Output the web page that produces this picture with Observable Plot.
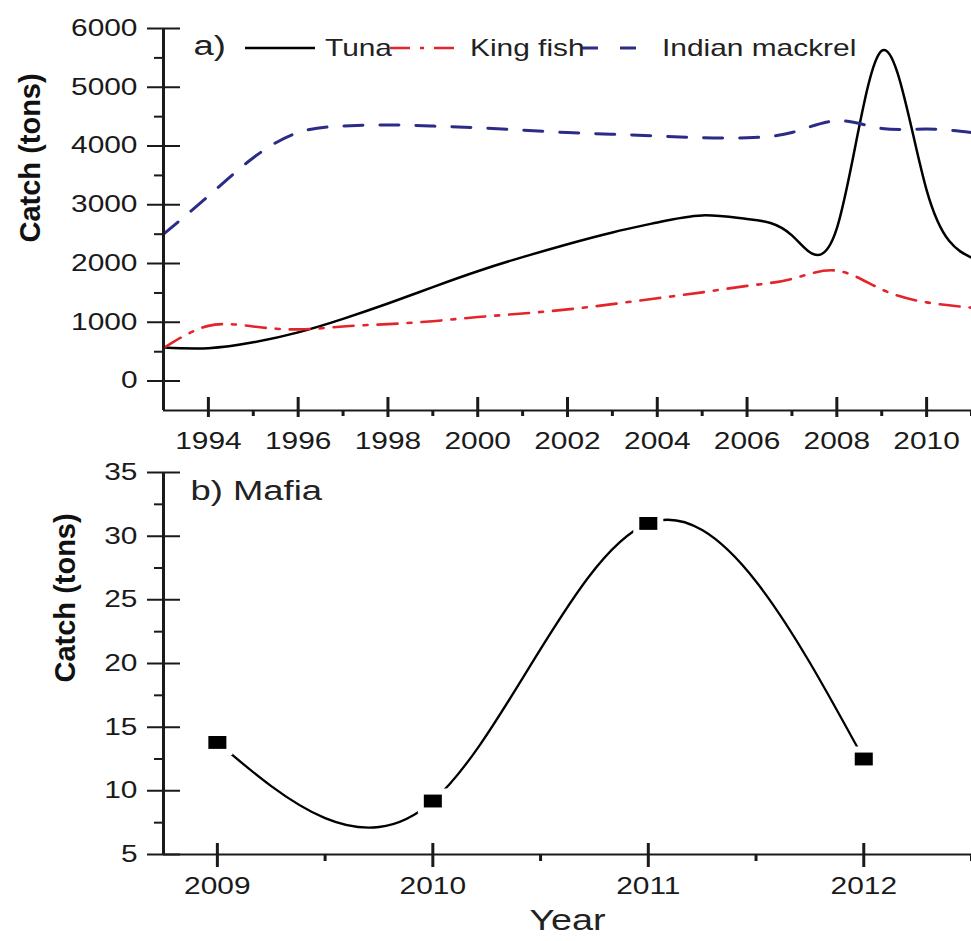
<!DOCTYPE html>
<html><head><meta charset="utf-8">
<script src="https://cdn.jsdelivr.net/npm/d3@7"></script>
<script src="https://cdn.jsdelivr.net/npm/@observablehq/plot@0.6"></script>
<style>
body{margin:0;background:#fff;font-family:"Liberation Sans",Arial,sans-serif;}
#wrap{position:relative;width:971px;height:941px;overflow:hidden;background:#fff;}
#wrap svg{display:block;}
#legend{position:absolute;left:0;top:0;pointer-events:none;}
</style></head><body><div id="wrap"></div>
<script>
// ---- data ----
const years = [1993,1994,1995,1996,1997,1998,1999,2000,2001,2002,2003,2004,2005,2006,2007,2008,2009,2010,2011];
const tuna = [570,560,660,830,1060,1320,1600,1870,2110,2330,2530,2700,2820,2760,2480,2600,5620,3250,2100];
const kingFish = [560,940,930,880,930,970,1020,1090,1150,1220,1310,1410,1510,1620,1740,1880,1560,1340,1250];
const indianMackrel = [2500,3150,3800,4230,4340,4360,4340,4310,4270,4230,4200,4170,4140,4140,4230,4430,4300,4290,4230];
const speciesNames = ["Tuna","King fish","Indian mackrel"];

const mafiaYears = [2009,2010,2011,2012];
const mafiaCatch = [13.8,9.2,31,12.5];

const topYTicks = [0,1000,2000,3000,4000,5000,6000];
const topYMinor = [500,1500,2500,3500,4500,5500];
const topXTicks = [1994,1996,1998,2000,2002,2004,2006,2008,2010];
const topXMinor = [1995,1997,1999,2001,2003,2005,2007,2009,2011];
const topXDomain = [1993,2011];
const topYDomain = [-500,6000];

const botYTicks = [5,10,15,20,25,30,35];
const botYMinor = [7.5,12.5,17.5,22.5,27.5,32.5];
const botXTicks = [2009,2010,2011,2012];
const botXMinor = [2009.5,2010.5,2011.5,2012.5];
const botXDomain = [2008.75,2012.5];
const botYDomain = [5,35];

// ---- tables ----
const seriesValues = [tuna, kingFish, indianMackrel];
const rows = speciesNames.flatMap((s, j) => years.map((y, i) => ({species: s, year: y, catch: seriesValues[j][i]})));
const mafia = mafiaYears.map((y, i) => ({year: y, catch: mafiaCatch[i]}));

const RED = "#e3242b", BLUE = "#2b2b88";
const styles = {
  "Tuna": {stroke: "#000", strokeWidth: 2.5, strokeDasharray: null},
  "King fish": {stroke: RED, strokeWidth: 2.6, strokeDasharray: "20,10,4,10"},
  "Indian mackrel": {stroke: BLUE, strokeWidth: 3, strokeDasharray: "19,17"}
};
const K = 1.3; // horizontal stretch of the original figure's text
const FONT = "'Liberation Sans', Arial, sans-serif";
const fmt = d3.format("d");

function stretch(svg, k) {
  svg.querySelectorAll("text").forEach(t => {
    const tr = t.getAttribute("transform") || "";
    if (tr.includes("rotate")) return;
    const x = +t.getAttribute("x") || 0;
    t.setAttribute("transform", `${tr} translate(${x},0) scale(${k},1) translate(${-x},0)`);
  });
}

const rectSymbol = {draw(ctx, size) { const h = Math.sqrt(size / 1.4), w = 1.4 * h; ctx.rect(-w/2, -h/2, w, h); }};

const topPlot = Plot.plot({
  width: 971, height: 460,
  marginLeft: 163, marginRight: 0, marginTop: 28, marginBottom: 50,
  x: {domain: topXDomain, label: null},
  y: {domain: topYDomain, label: null},
  style: {fontFamily: FONT, color: "#1a1a1a", background: "transparent", overflow: "visible"},
  marks: [
    ...speciesNames.map(s => Plot.line(rows.filter(d => d.species === s), {x: "year", y: "catch", curve: "natural", ...styles[s]})),
    Plot.ruleX([topXDomain[0]], {strokeWidth: 3}),
    Plot.ruleY([topYDomain[0]], {strokeWidth: 2}),
    Plot.axisY({ticks: topYTicks, tickSize: 33, dx: 17, text: null, strokeWidth: 2, label: null}),
    Plot.axisY({ticks: topYMinor, tickSize: 9, text: null, strokeWidth: 2, label: null}),
    Plot.axisY({ticks: topYTicks, tickSize: 0, tickPadding: 26, tickFormat: fmt, fontSize: 23, label: null}),
    Plot.axisX({ticks: topXTicks, tickSize: 20, dy: -13, text: null, strokeWidth: 3, label: null}),
    Plot.axisX({ticks: topXMinor, tickSize: 6, text: null, strokeWidth: 3, label: null}),
    Plot.axisX({ticks: topXTicks, tickSize: 0, tickPadding: 22, tickFormat: fmt, fontSize: 23, label: null}),
    Plot.text(["Catch (tons)"], {frameAnchor: "left", rotate: -90, dx: -133, dy: 23, fontSize: 29, fontWeight: "bold", fill: "#111"}),
    Plot.text(["a)"], {frameAnchor: "top-left", textAnchor: "start", lineAnchor: "top", dx: 30, dy: 7, fontSize: 28, fill: "#222"})
  ]
});

const botPlot = Plot.plot({
  width: 971, height: 481,
  marginLeft: 163, marginRight: 0, marginTop: 12, marginBottom: 87,
  x: {domain: botXDomain, label: null},
  y: {domain: botYDomain, label: null},
  style: {fontFamily: FONT, color: "#1a1a1a", background: "transparent", overflow: "visible"},
  marks: [
    Plot.line(mafia, {x: "year", y: "catch", curve: "natural", stroke: "#000", strokeWidth: 2.3}),
    Plot.dot(mafia, {x: "year", y: "catch", symbol: rectSymbol, r: 8.6, fill: "none", stroke: "#fff", strokeWidth: 12}),
    Plot.dot(mafia, {x: "year", y: "catch", symbol: rectSymbol, r: 8.6, fill: "#000", stroke: "none"}),
    Plot.ruleX([botXDomain[0]], {strokeWidth: 3}),
    Plot.ruleY([botYDomain[0]], {strokeWidth: 2}),
    Plot.axisY({ticks: botYTicks, tickSize: 33, dx: 17, text: null, strokeWidth: 2, label: null}),
    Plot.axisY({ticks: botYMinor, tickSize: 9, text: null, strokeWidth: 2, label: null}),
    Plot.axisY({ticks: botYTicks, tickSize: 0, tickPadding: 26, tickFormat: fmt, fontSize: 23, label: null}),
    Plot.axisX({ticks: botXTicks, tickSize: 24, dy: -11, text: null, strokeWidth: 3, label: null}),
    Plot.axisX({ticks: botXMinor, tickSize: 7, text: null, strokeWidth: 3, label: null}),
    Plot.axisX({ticks: botXTicks, tickSize: 0, tickPadding: 23, tickFormat: fmt, fontSize: 23, label: null}),
    Plot.text(["Catch (tons)"], {frameAnchor: "left", rotate: -90, dx: -98, dy: 19, fontSize: 29, fontWeight: "bold", fill: "#111"}),
    Plot.text(["b) Mafia"], {frameAnchor: "top-left", textAnchor: "start", lineAnchor: "top", dx: 27, dy: 8, fontSize: 28, fill: "#222"}),
    Plot.text(["Year"], {frameAnchor: "bottom", dy: 75, fontSize: 29, fill: "#222"})
  ]
});

stretch(topPlot, K);
stretch(botPlot, K);
const wrap = document.getElementById("wrap");
wrap.appendChild(topPlot);
wrap.appendChild(botPlot);

// ---- legend (overlay inside panel a) ----
const legendLayout = [
  {x0: 245, x1: 315, tx: 325},
  {x0: 390, x1: 462, tx: 470},
  {x0: 582, x1: 640, tx: 662}
];
const lg = d3.select(wrap).append("svg").attr("id", "legend").attr("width", 971).attr("height", 80)
  .style("font-family", FONT);
speciesNames.forEach((s, i) => {
  const L = legendLayout[i], st = styles[s];
  lg.append("line").attr("x1", L.x0).attr("x2", L.x1).attr("y1", 48).attr("y2", 48)
    .attr("stroke", st.stroke).attr("stroke-width", st.strokeWidth)
    .attr("stroke-dasharray", s === "Indian mackrel" ? "16,22" : st.strokeDasharray);
  lg.append("text").attr("x", L.tx).attr("y", 56).attr("font-size", 23).attr("fill", "#222")
    .attr("transform", `translate(${L.tx},0) scale(${K},1) translate(${-L.tx},0)`).text(s);
});
</script></body></html>
